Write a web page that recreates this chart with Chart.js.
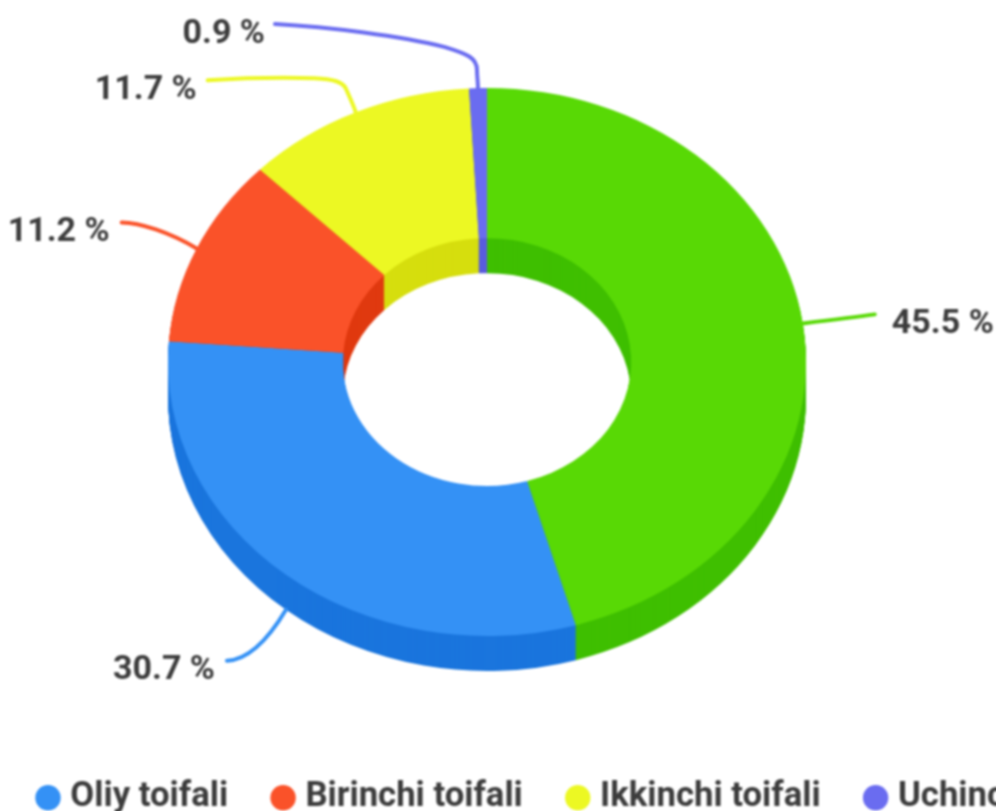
<!DOCTYPE html>
<html>
<head>
<meta charset="utf-8">
<title>Toifalar</title>
<script src="https://cdn.jsdelivr.net/npm/chart.js@4"></script>
<style>
    html, body { margin: 0; padding: 0; background: #fff; width: 996px; height: 811px; overflow: hidden; }
    #wrap { width: 996px; height: 811px; overflow: hidden; }
    #DonutChart { display: block; margin-left: -7px; filter: blur(0.8px); }
</style>
</head>
<body>
<div id="wrap"><canvas id="DonutChart" width="1600" height="825"></canvas></div>
<script>
// clockwise from the bottom of the green slice, same order as the legend
const categories = ['Oliy toifali', 'Birinchi toifali', 'Ikkinchi toifali', 'Uchinchi toifali', 'Toifasiz'];
const shares = [30.7, 11.2, 11.7, 0.9, 45.5];
const topColors = ['#3491f5', '#fa5229', '#ecf823', '#6a6cf0', '#58d905'];
const wallColors = ['#1a75dd', '#e0390f', '#d6de0e', '#5a5cdc', '#3fbf00'];

// look of the fake 3d tilt
const pieCenter = { x: 494, y: 362 };
const squash = 0.859;
const depth = 35;

// leader lines as bezier triples, relative to the slice's outer edge
const leaders = [
    [[[-18, 30], [-38, 50], [-59, 51]]],
    [[[-27, -16], [-57, -26], [-75, -26]]],
    [[[-3, -9], [-7, -17], [-10, -24]], [[-14, -31], [-23, -33], [-41, -34]], [[-76, -35], [-116, -34], [-148, -32]]],
    [[[0, -6], [-1, -12], [-1, -18]], [[-1, -30], [-10, -34], [-33, -41]], [[-78, -52], [-148, -61], [-203, -64]]],
    [[[25, -3], [50, -6], [72, -9]]]
];
const labelGap = [-12, -12, -11, -10, 17];

function tilt(ctx, arc) {
    ctx.translate(pieCenter.x, pieCenter.y);
    ctx.scale(1, squash);
    ctx.translate(-arc.x, -arc.y);
}

const tiltedDonut = {
    id: 'tiltedDonut',
    beforeDatasetsDraw(chart) {
        const ctx = chart.ctx;
        const arcs = chart.getDatasetMeta(0).data;
        ctx.save();
        tilt(ctx, arcs[0]);
        // walls: stack darker copies from the bottom up
        for (let d = depth; d > 0; d--) {
            ctx.save();
            ctx.translate(0, d / squash);
            arcs.forEach((arc, i) => {
                const opts = arc.options;
                arc.options = Object.assign({}, opts, { backgroundColor: wallColors[i] });
                arc.draw(ctx);
                arc.options = opts;
            });
            ctx.restore();
        }
    },
    afterDatasetsDraw(chart) {
        chart.ctx.restore();
    },
    afterDraw(chart) {
        const ctx = chart.ctx;
        const arcs = chart.getDatasetMeta(0).data;
        ctx.save();
        arcs.forEach((arc, i) => {
            const mid = (arc.startAngle + arc.endAngle) / 2;
            const ax = pieCenter.x + Math.cos(mid) * arc.outerRadius;
            let ay = pieCenter.y + Math.sin(mid) * arc.outerRadius * squash;
            if (Math.sin(mid) > 0) ay += depth;

            ctx.strokeStyle = topColors[i];
            ctx.lineWidth = 4;
            ctx.lineCap = 'round';
            ctx.beginPath();
            ctx.moveTo(ax, ay);
            let end = [0, 0];
            leaders[i].forEach(seg => {
                ctx.bezierCurveTo(ax + seg[0][0], ay + seg[0][1], ax + seg[1][0], ay + seg[1][1], ax + seg[2][0], ay + seg[2][1]);
                end = seg[2];
            });
            ctx.stroke();

            ctx.fillStyle = '#3c3c3c';
            ctx.font = 'bold 34px Roboto';
            ctx.textBaseline = 'middle';
            ctx.textAlign = labelGap[i] < 0 ? 'right' : 'left';
            ctx.fillText(shares[i].toFixed(1) + ' %', ax + end[0] + labelGap[i], ay + end[1] + 10);
        });
        ctx.restore();
    }
};

new Chart(document.getElementById('DonutChart'), {
    type: 'doughnut',
    data: {
        labels: categories,
        datasets: [{
            data: shares,
            backgroundColor: topColors,
            borderWidth: 0,
            clip: false
        }]
    },
    options: {
        responsive: false,
        animation: false,
        events: [],
        radius: 319,
        cutout: '45.2%',
        rotation: 360 * shares[4] / 100,
        plugins: {
            tooltip: { enabled: false },
            legend: {
                position: 'bottom',
                align: 'start',
                labels: {
                    usePointStyle: true,
                    pointStyle: 'circle',
                    boxWidth: 10,
                    boxHeight: 18,
                    padding: 50,
                    color: '#3c3c3c',
                    font: { family: 'Roboto', size: 34.7, weight: 'bold' }
                }
            }
        }
    },
    plugins: [tiltedDonut]
});
</script>
</body>
</html>
